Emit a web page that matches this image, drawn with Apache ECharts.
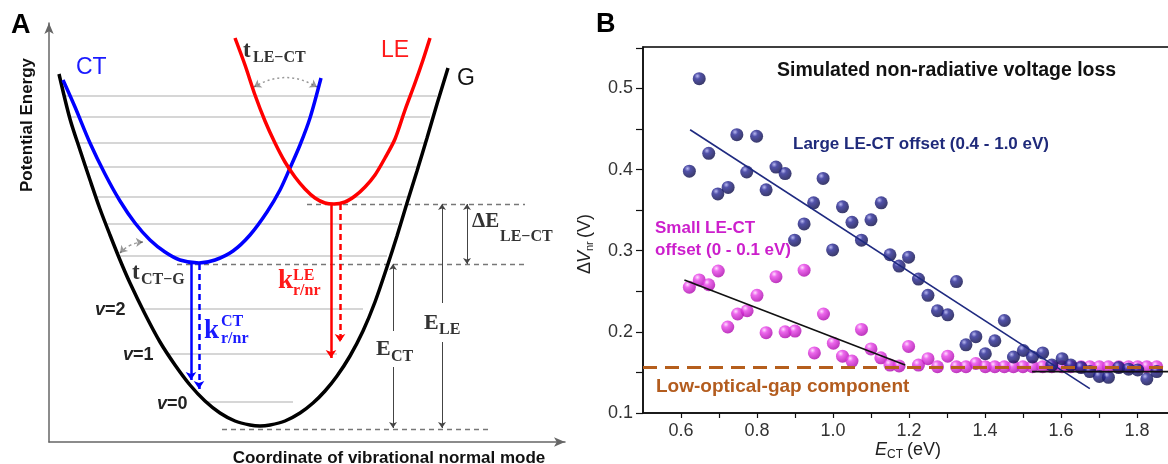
<!DOCTYPE html>
<html>
<head>
<meta charset="utf-8">
<script src="https://cdn.jsdelivr.net/npm/echarts@6/dist/echarts.min.js"></script>
<style>
  html, body { margin: 0; padding: 0; background: #fff; }
  #main { width: 1168px; height: 464px; }
</style>
</head>
<body>
<div id="main"></div>
<script>
// ---- panel A: schematic potential energy curves (arbitrary units)
const curveG = [[10,368],[21,323],[31,292],[41,262],[51,233],[61,207],[71,182],[81,159],[96,128],[111,100],[126,77],
  [141,57],[156,41],[171,29],[186,21],[201,17],[211,16],[221,17],[236,21],[251,29],[264,39],[276,51],[288,66],
  [301,86],[314,111],[326,140],[338,175],[348,206],[358,239],[368,271],[378,304],[388,338],[399,374]];
const curveCT = [[14,362],[26,335],[41,299],[56,268],[71,241],[86,219],[101,202],[116,190],[131,182],[150,179],
  [166,182],[184,191],[201,207],[218,230],[231,252],[241,274],[251,297],[261,324],[272,364]];
const curveLE = [[186,404],[196,377],[206,347],[216,321],[226,299],[236,280],[246,265],[256,253],[266,244],[276,239],
  [285,238],[296,240],[306,246],[316,255],[326,267],[336,284],[346,303],[356,332],[366,359],[374,382],[381,404]];
// vibrational levels: energy, left end, right end
const levelEnergy = [346, 325, 299, 275, 245, 218, 186, 133, 88, 40];
const levelLeft = [16, 22, 29, 37, 47, 57, 70, 93, 118, 156];
const levelRight = [388, 381, 376, 369, 359, 349, 338, 314, 288, 244];
const minLE = 238, minCT = 178, minG = 13;
const guideLE = [[258, minLE], [476, minLE]];
const guideCT = [[128, minCT], [476, minCT]];
const guideG = [[173, minG], [441, minG]];
// energy gap arrows
const arrowDeltaE = [[418, minCT], [418, minLE]];
const arrowsELE = [[[393, 139], [393, minLE]], [[393, 100], [393, 14]]];
const arrowsECT = [[[344, 111], [344, minCT]], [[344, 75], [344, 14]]];
// radiative / non-radiative decay arrows
const ctSolid = [[142, minCT], [142, 62]];
const ctDashed = [[150, minCT], [150, 53]];
const leSolid = [[282, minLE], [282, 84]];
const leDashed = [[291, minLE], [291, 100]];
// transfer arrows
const transferLECT = [[205, 355], [268, 355]];
const transferCTG = [[94, 200], [71, 189]];

// ---- panel B: simulated non-radiative voltage loss
const largeOffset = [
  [0.622,0.398],[0.648,0.512],[0.673,0.420],[0.697,0.370],[0.724,0.378],[0.747,0.443],[0.773,0.397],
  [0.799,0.441],[0.824,0.375],[0.850,0.403],[0.874,0.395],[0.899,0.313],[0.924,0.333],[0.949,0.359],
  [0.974,0.389],[0.999,0.301],[1.025,0.354],[1.050,0.335],[1.075,0.313],[1.100,0.338],[1.127,0.359],
  [1.150,0.295],[1.174,0.281],[1.199,0.292],[1.225,0.265],[1.250,0.245],[1.275,0.226],[1.302,0.221],
  [1.325,0.262],[1.350,0.184],[1.376,0.194],[1.401,0.173],[1.426,0.189],[1.451,0.214],[1.475,0.169],
  [1.501,0.177],[1.525,0.169],[1.552,0.174],[1.576,0.159],[1.603,0.167],[1.626,0.159],[1.653,0.156],
  [1.676,0.151],[1.701,0.145],[1.725,0.144],[1.752,0.156],[1.778,0.154],[1.802,0.153],[1.826,0.142],
  [1.852,0.151]
];
const smallOffset = [
  [0.622,0.255],[0.648,0.264],[0.673,0.258],[0.698,0.275],[0.723,0.206],[0.749,0.222],[0.774,0.226],
  [0.800,0.245],[0.824,0.199],[0.850,0.268],[0.874,0.200],[0.900,0.201],[0.924,0.276],[0.951,0.174],
  [0.975,0.222],[1.001,0.186],[1.025,0.170],[1.050,0.164],[1.075,0.203],[1.100,0.179],[1.126,0.168],
  [1.150,0.159],[1.174,0.158],[1.199,0.182],[1.225,0.159],[1.250,0.167],[1.275,0.157],[1.302,0.170],
  [1.325,0.157],[1.350,0.157],[1.376,0.161],[1.401,0.157],[1.426,0.157],[1.451,0.157],[1.475,0.157],
  [1.500,0.157],[1.525,0.157],[1.552,0.157],[1.576,0.157],[1.603,0.157],[1.626,0.157],[1.653,0.157],
  [1.676,0.157],[1.701,0.157],[1.725,0.157],[1.752,0.157],[1.778,0.157],[1.802,0.157],[1.826,0.157],
  [1.852,0.157]
];
const largeFit = [[0.624,0.449],[1.676,0.130]];
const smallFit = [[0.609,0.264],[1.190,0.159]];
const plateauFit = [[1.524,0.151],[1.887,0.151]];
const lowGapLevel = 0.156;
const xRange = [0.5, 1.887];
const yRange = [0.1, 0.551];

const SANS = '"Liberation Sans", Arial, sans-serif';
const SERIF = '"Liberation Serif", "DejaVu Serif", serif';
const BLUE = '#1a1aff', RED = '#ff1a1a';

function T(x, y, text, font, fill, align) {
  return { type: 'text', x: x, y: y, z: 100,
    style: { text: text, font: font, fill: fill, align: align || 'left', verticalAlign: 'middle' } };
}
function seg(coords) { return { coords: coords }; }
function linesA(data, color, width, type, symbol, extra) {
  return Object.assign({
    type: 'lines', coordinateSystem: 'cartesian2d', xAxisIndex: 0, yAxisIndex: 0, silent: true,
    data: data.map(seg), symbol: symbol || 'none', symbolSize: 7,
    lineStyle: { color: color, width: width, type: type || 'solid', opacity: 1 }
  }, extra || {});
}
function curve(data, color) {
  return { type: 'line', xAxisIndex: 0, yAxisIndex: 0, data: data, smooth: 0.3, showSymbol: false,
    silent: true, lineStyle: { color: color, width: 3.5 } };
}
function ball(light, mid, dark) {
  return { type: 'radial', x: 0.36, y: 0.3, r: 0.75,
    colorStops: [{ offset: 0, color: light }, { offset: 0.3, color: mid }, { offset: 1, color: dark }] };
}
const levels = levelEnergy.map((e, i) => [[levelLeft[i], e], [levelRight[i], e]]);
const vLabel = (x, y, n) => ({ type: 'text', x: x, y: y, z: 100,
  style: { text: '{i|v}{n|=' + n + '}', verticalAlign: 'middle',
    rich: { i: { font: 'italic bold 18px ' + SANS, fill: '#222' }, n: { font: 'bold 18px ' + SANS, fill: '#222' } } } });

const chart = echarts.init(document.getElementById('main'));
chart.setOption({
  animation: false,
  backgroundColor: '#fff',
  grid: [
    { left: 49, top: 23, width: 516, height: 419, outerBoundsMode: 'none' },
    { left: 643, top: 47, width: 527, height: 366, show: true, borderColor: '#000', borderWidth: 1.5,
      backgroundColor: 'transparent', outerBoundsMode: 'none' }
  ],
  xAxis: [
    { gridIndex: 0, type: 'value', min: 0, max: 516,
      axisLine: { show: true, symbol: ['none', 'arrow'], symbolSize: [7, 11], lineStyle: { color: '#666', width: 1.5 } },
      axisTick: { show: false }, axisLabel: { show: false }, splitLine: { show: false } },
    { gridIndex: 1, type: 'value', min: xRange[0], max: xRange[1], interval: 0.1,
      axisLine: { lineStyle: { color: '#111', width: 1.5 } },
      axisTick: { length: 5, lineStyle: { color: '#111', width: 1.2 } },
      axisLabel: { color: '#333', fontSize: 18, fontFamily: SANS, margin: 9, showMaxLabel: false, showMinLabel: false,
        formatter: v => (Math.round(v * 10) % 2 === 0 ? v.toFixed(1) : '') },
      splitLine: { show: false } }
  ],
  yAxis: [
    { gridIndex: 0, type: 'value', min: 0, max: 419,
      axisLine: { show: true, symbol: ['none', 'arrow'], symbolSize: [7, 11], lineStyle: { color: '#666', width: 1.5 } },
      axisTick: { show: false }, axisLabel: { show: false }, splitLine: { show: false } },
    { gridIndex: 1, type: 'value', min: yRange[0], max: yRange[1], interval: 0.05,
      axisLine: { show: true, lineStyle: { color: '#111', width: 1.5 } },
      axisTick: { show: true, length: 7, lineStyle: { color: '#111', width: 1.2 } },
      axisLabel: { color: '#333', fontSize: 18, fontFamily: SANS, margin: 10, showMaxLabel: false,
        formatter: v => (Math.round(v * 100) % 10 === 0 ? v.toFixed(1) : '') },
      splitLine: { show: false } }
  ],
  series: [
    // ---- panel A
    linesA(levels, '#c9c9c9', 1.6),
    linesA([guideLE, guideCT, guideG], '#777', 1.3, [5, 4]),
    curve(curveG, '#000'),
    curve(curveCT, '#0000ff'),
    curve(curveLE, '#ff0000'),
    linesA([arrowDeltaE], '#444', 1, 'solid', ['arrow', 'arrow'], { symbolSize: 6 }),
    linesA(arrowsELE.concat(arrowsECT), '#444', 1, 'solid', ['none', 'arrow'], { symbolSize: 6 }),
    linesA([ctSolid], '#0000ff', 2.5, 'solid', ['none', 'arrow'], { symbolSize: 8 }),
    linesA([ctDashed], '#0000ff', 2.5, [6, 4], ['none', 'arrow'], { symbolSize: 8 }),
    linesA([leSolid], '#ff0000', 2.5, 'solid', ['none', 'arrow'], { symbolSize: 8 }),
    linesA([leDashed], '#ff0000', 2.5, [6, 4], ['none', 'arrow'], { symbolSize: 8 }),
    linesA([transferLECT], '#333', 1.5, [2, 3], ['arrow', 'arrow'], { symbolSize: 7, lineStyle: { color: '#333', width: 1.5, type: [2, 3], curveness: 0.3 } }),
    linesA([transferCTG], '#333', 1.5, [3, 3], ['arrow', 'arrow'], { symbolSize: 7, lineStyle: { color: '#333', width: 1.5, type: [3, 3], curveness: -0.2 } }),
    // ---- panel B
    { type: 'scatter', xAxisIndex: 1, yAxisIndex: 1, data: smallOffset, symbolSize: 13, silent: true,
      itemStyle: { color: ball('#ffd6ff', '#e842e8', '#a800a8') } },
    { type: 'scatter', xAxisIndex: 1, yAxisIndex: 1, data: largeOffset, symbolSize: 13, silent: true,
      itemStyle: { color: ball('#a8a8ee', '#262694', '#07073f') } },
    { type: 'line', xAxisIndex: 1, yAxisIndex: 1, data: xRange.map(x => [x, lowGapLevel]), showSymbol: false, silent: true, z: 5,
      lineStyle: { color: '#b55e1c', width: 3, type: [14, 8] } },
    { type: 'line', xAxisIndex: 1, yAxisIndex: 1, data: largeFit, showSymbol: false, silent: true, z: 6,
      lineStyle: { color: '#1f2a80', width: 1.6 } },
    { type: 'line', xAxisIndex: 1, yAxisIndex: 1, data: smallFit, showSymbol: false, silent: true, z: 6,
      lineStyle: { color: '#111', width: 1.6 } },
    { type: 'line', xAxisIndex: 1, yAxisIndex: 1, data: plateauFit, showSymbol: false, silent: true, z: 6,
      lineStyle: { color: '#111', width: 1.6 } }
  ],
  graphic: [
    // panel A labels
    T(11, 26, 'A', 'bold 27px ' + SANS, '#000'),
    { type: 'text', x: 27, y: 125, rotation: Math.PI / 2, z: 100,
      style: { text: 'Potential Energy', font: 'bold 17px ' + SANS, fill: '#111', align: 'center', verticalAlign: 'middle' } },
    T(389, 458, 'Coordinate of vibrational normal mode', 'bold 17px ' + SANS, '#111', 'center'),
    T(76, 68, 'CT', '23px ' + SANS, BLUE),
    T(381, 51, 'LE', '23px ' + SANS, RED),
    T(457, 79, 'G', '23px ' + SANS, '#111'),
    T(243, 51, 't', 'bold 23px ' + SERIF, '#333'),
    T(253, 58, 'LE\u2212CT', 'bold 16px ' + SERIF, '#333'),
    T(132, 273, 't', 'bold 23px ' + SERIF, '#333'),
    T(141, 280, 'CT\u2212G', 'bold 16px ' + SERIF, '#333'),
    T(472, 222, '\u0394E', 'bold 21px ' + SERIF, '#333'),
    T(500, 237, 'LE\u2212CT', 'bold 16px ' + SERIF, '#333'),
    T(424, 323, 'E', 'bold 22px ' + SERIF, '#333'),
    T(439, 330, 'LE', 'bold 16px ' + SERIF, '#333'),
    T(376, 349, 'E', 'bold 22px ' + SERIF, '#333'),
    T(391, 357, 'CT', 'bold 16px ' + SERIF, '#333'),
    T(204, 331, 'k', 'bold 27px ' + SERIF, BLUE),
    T(221, 322, 'CT', 'bold 16px ' + SERIF, BLUE),
    T(221, 339, 'r/nr', 'bold 16px ' + SERIF, BLUE),
    T(278, 281, 'k', 'bold 27px ' + SERIF, RED),
    T(293, 276, 'LE', 'bold 16px ' + SERIF, RED),
    T(293, 291, 'r/nr', 'bold 16px ' + SERIF, RED),
    vLabel(95, 310, 2),
    vLabel(123, 355, 1),
    vLabel(157, 404, 0),
    // panel B labels
    T(596, 25, 'B', 'bold 27px ' + SANS, '#000'),
    T(777, 71, 'Simulated non-radiative voltage loss', 'bold 19.5px ' + SANS, '#111'),
    T(793, 144, 'Large LE-CT offset (0.4 - 1.0 eV)', 'bold 17px ' + SANS, '#1f2a7a'),
    T(655, 228, 'Small LE-CT', 'bold 17px ' + SANS, '#cc1fcc'),
    T(655, 250, 'offset (0 - 0.1 eV)', 'bold 17px ' + SANS, '#cc1fcc'),
    T(656, 387, 'Low-optical-gap component', 'bold 19px ' + SANS, '#b35c1e'),
    T(875, 450, 'E', 'italic 18px ' + SANS, '#222'),
    T(887, 455, 'CT', '12px ' + SANS, '#222'),
    T(907, 450, '(eV)', '18px ' + SANS, '#222'),
    { type: 'group', x: 585, y: 243, rotation: Math.PI / 2, z: 100, children: [
      { type: 'text', x: -31, y: 0, style: { text: '\u0394', font: '18px ' + SANS, fill: '#222', verticalAlign: 'middle' } },
      { type: 'text', x: -20, y: 0, style: { text: 'V', font: 'italic 18px ' + SANS, fill: '#222', verticalAlign: 'middle' } },
      { type: 'text', x: -8, y: 5, style: { text: 'nr', font: '11px ' + SANS, fill: '#222', verticalAlign: 'middle' } },
      { type: 'text', x: 5, y: 0, style: { text: '(V)', font: '18px ' + SANS, fill: '#222', verticalAlign: 'middle' } }
    ] }
  ]
});
</script>
</body>
</html>
